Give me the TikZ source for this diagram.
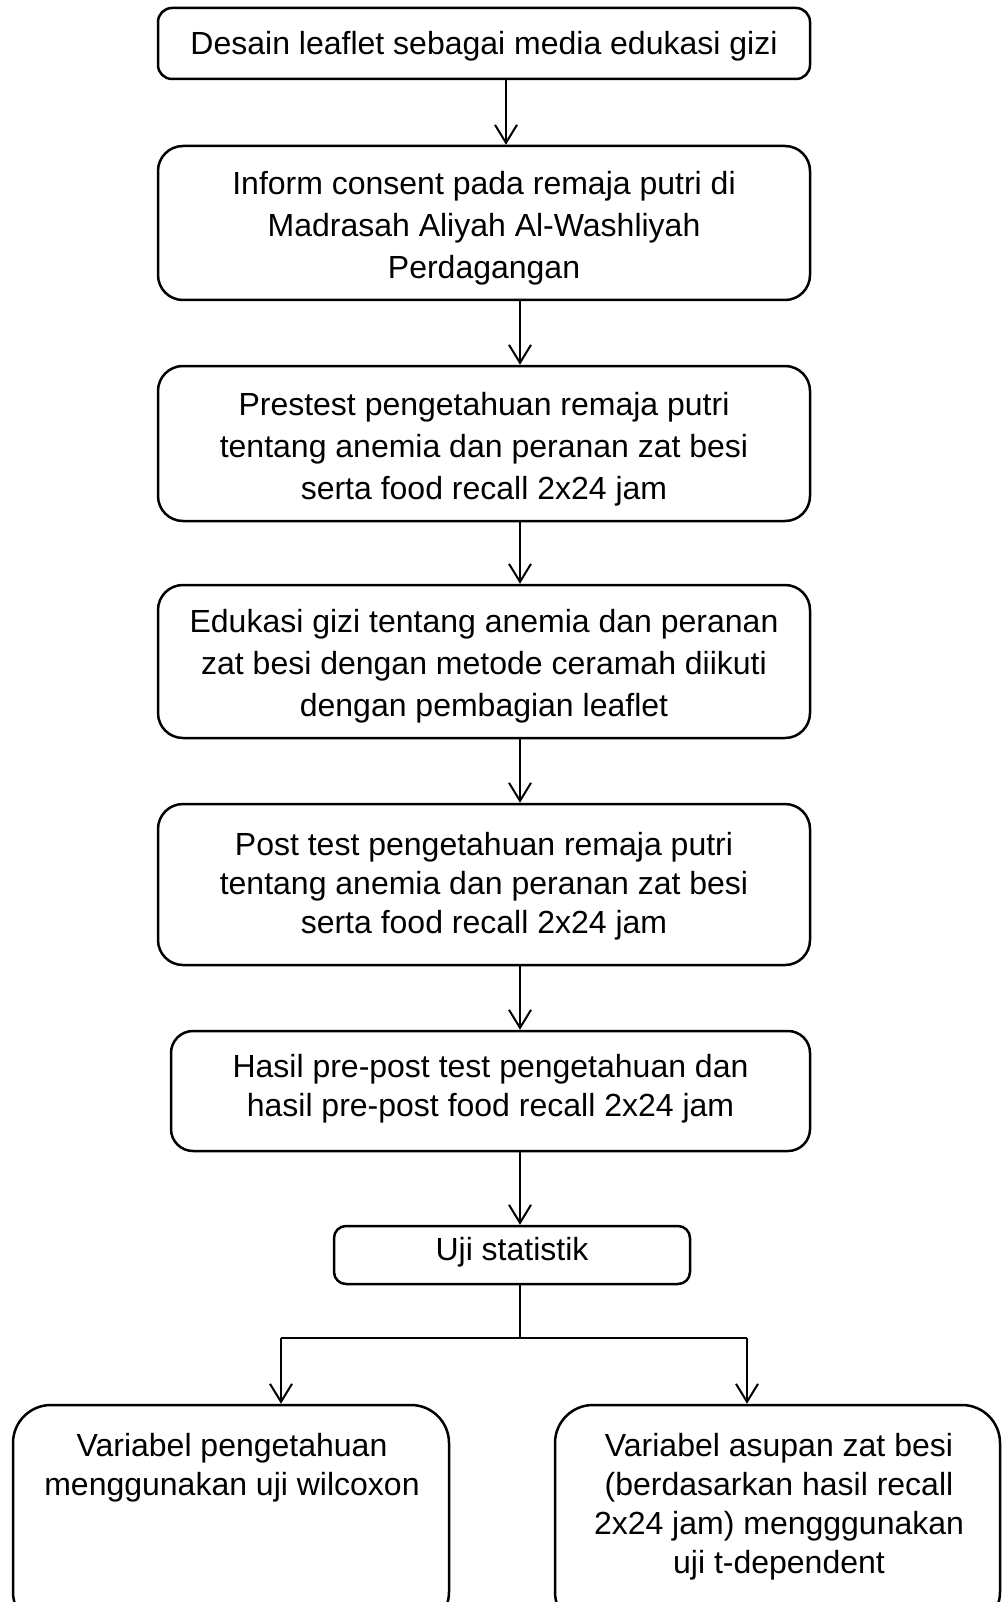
\documentclass[tikz,border=0pt]{standalone}
\usepackage{fontspec}
\setmainfont{Liberation Sans}
\usetikzlibrary{arrows.meta}
\begin{document}
\begin{tikzpicture}[x=1pt,y=-1pt,
  box/.style={draw, line width=2.5pt, rounded corners=#1, inner sep=0pt},
  box/.default=25pt,
  txt/.style={align=center, inner sep=0pt, font=\fontsize{32}{#1}\selectfont},
  txt/.default=42,
  conn/.style={line width=2pt, -{Straight Barb[length=18pt,width=22pt,line width=2pt]}},
  plain/.style={line width=2pt}]
\useasboundingbox (0,0) rectangle (1002,1602);
\clip (0,0) rectangle (1002,1602);

\node[box=14pt, minimum width=652pt, minimum height=71pt] (b1) at (484,43.5) {};
\node[box, minimum width=652pt, minimum height=154pt] (b2) at (484,223) {};
\node[box, minimum width=652pt, minimum height=155pt] (b3) at (484,443.5) {};
\node[box, minimum width=652pt, minimum height=153pt] (b4) at (484,661.5) {};
\node[box, minimum width=652pt, minimum height=161pt] (b5) at (484,884.5) {};
\node[box=22pt, minimum width=639pt, minimum height=120pt] (b6) at (490.5,1091) {};
\node[box=12pt, minimum width=356pt, minimum height=58pt] (b7) at (512,1255) {};
\node[box=38pt, minimum width=436pt, minimum height=225pt] (b8l) at (231,1517.5) {};
\node[box=38pt, minimum width=445pt, minimum height=225pt] (b8r) at (777.5,1517.5) {};

\node[txt, yshift=-3pt] (t1) at (b1.center)
  {Desain leaflet sebagai media edukasi gizi};
\node[txt, yshift=-5.5pt] (t2) at (b2.center)
  {Inform consent pada remaja putri di\\Madrasah Aliyah Al-Washliyah\\Perdagangan};
\node[txt, yshift=-5.5pt] (t3) at (b3.center)
  {Prestest pengetahuan remaja putri\\tentang anemia dan peranan zat besi\\serta food recall 2x24 jam};
\node[txt, yshift=-5pt] (t4) at (b4.center)
  {Edukasi gizi tentang anemia dan peranan\\zat besi dengan metode ceramah diikuti\\dengan pembagian leaflet};
\node[txt=39, yshift=-2pt] (t5) at (b5.center)
  {Post test pengetahuan remaja putri\\tentang anemia dan peranan zat besi\\serta food recall 2x24 jam};
\node[txt=39, yshift=2.5pt] (t6) at (b6.center)
  {Hasil pre-post test pengetahuan dan\\hasil pre-post food recall 2x24 jam};
\node[txt, yshift=3pt] (t7) at (b7.center)
  {Uji statistik};
\node[txt=39, anchor=north] (t8l) at (232,1433)
  {Variabel pengetahuan\\menggunakan uji wilcoxon};
\node[txt=39, anchor=north] (t8r) at (779,1433)
  {Variabel asupan zat besi\\(berdasarkan hasil recall\\2x24 jam) mengggunakan\\uji t-dependent};

\coordinate (a1) at (506,0);
\coordinate (a2) at (520,0);
\coordinate (s) at (520,1338);
\coordinate (sl) at (281,1338);
\coordinate (sr) at (747,1338);

\draw[conn] (b1.south -| a1) -- (b2.north -| a1);
\draw[conn] (b2.south -| a2) -- (b3.north -| a2);
\draw[conn] (b3.south -| a2) -- (b4.north -| a2);
\draw[conn] (b4.south -| a2) -- (b5.north -| a2);
\draw[conn] (b5.south -| a2) -- (b6.north -| a2);
\draw[conn] (b6.south -| a2) -- (b7.north -| a2);
\draw[plain] (b7.south -| a2) -- (s);
\draw[plain] (sl) -- (sr);
\draw[conn] (sl) -- (b8l.north -| sl);
\draw[conn] (sr) -- (b8r.north -| sr);
\end{tikzpicture}
\end{document}
